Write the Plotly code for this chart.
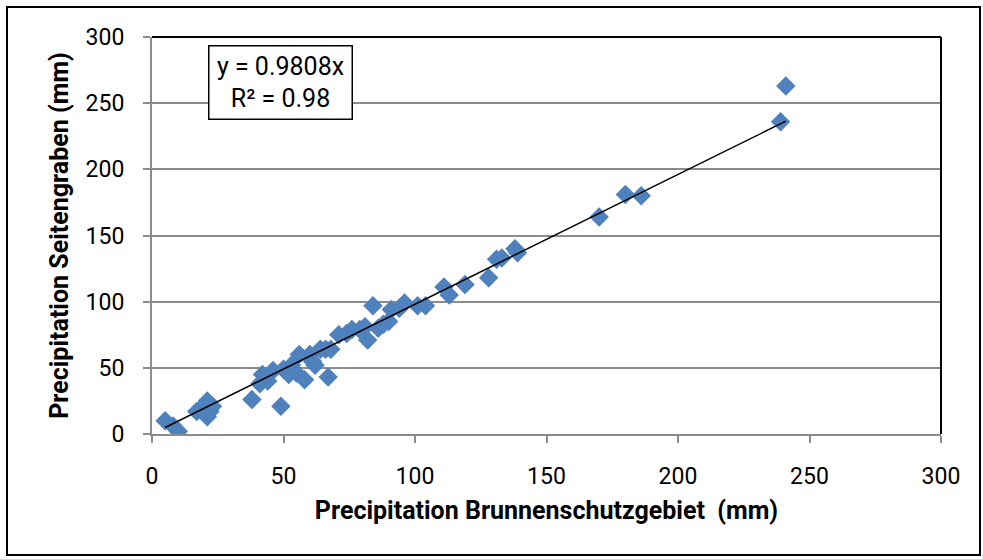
import plotly.graph_objects as go

# Monthly precipitation at two sites (mm)
brunnenschutzgebiet = [
    5, 8, 10,
    17, 19, 21, 21, 23, 22,
    38, 41, 42, 44, 46, 49, 50, 52, 53, 55, 56, 58, 60, 61, 62, 64, 66, 67, 68,
    71, 74, 76, 79, 81, 82, 84, 86, 88, 90, 91, 94, 96, 101, 104,
    111, 113, 119, 128, 131, 133, 138, 139,
    170, 180, 186, 239, 241,
]
seitengraben = [
    10, 6, 2,
    17, 20, 25, 13, 21, 17,
    26, 38, 45, 40, 48, 21, 49, 45, 52, 46, 60, 41, 60, 55, 52, 64, 64, 43, 64,
    75, 76, 79, 79, 81, 71, 97, 80, 83, 85, 94, 95, 99, 97, 97,
    111, 105, 113, 118, 132, 133, 140, 137,
    164, 181, 180, 236, 263,
]

# Linear fit through the origin
slope = 0.9808
r_squared = 0.98

tick_vals = [0, 50, 100, 150, 200, 250, 300]

FONT = "Roboto"
BLUE = "#4F81BD"
GRID = "#8C8C8C"

# plot-area geometry in pixels, used for paper-coordinate decorations
W, H = 983, 559
L, R, T, B = 152, 42, 37, 125
PW, PH = W - L - R, H - T - B


def px_x(px):
    return (px - L) / PW


def px_y(py):
    return (H - B - py) / PH


fig = go.Figure()

fig.add_trace(go.Scatter(
    x=brunnenschutzgebiet,
    y=seitengraben,
    mode="markers",
    marker=dict(symbol="diamond", size=15, color=BLUE, line=dict(width=0)),
    showlegend=False,
))

x_fit = [min(brunnenschutzgebiet), max(brunnenschutzgebiet)]
y_fit = [slope * v for v in x_fit]
fig.add_trace(go.Scatter(
    x=x_fit, y=y_fit, mode="lines",
    line=dict(color="black", width=1.5),
    showlegend=False,
))

axis_common = dict(
    range=[0, 300],
    tickvals=tick_vals,
    ticktext=[str(v) for v in tick_vals],
    ticks="outside",
    ticklen=7,
    tickwidth=1.5,
    tickcolor=GRID,
    showline=True,
    linecolor=GRID,
    linewidth=2,
    zeroline=False,
    tickfont=dict(family=FONT, size=23, color="black"),
    automargin=False,
)

fig.update_xaxes(
    **axis_common,
    showgrid=False,
    ticklabelstandoff=13,
    title=dict(
        text="<b>Precipitation Brunnenschutzgebiet  (mm)</b>",
        font=dict(family=FONT, size=25, color="black"),
        standoff=13,
    ),
)
fig.update_yaxes(
    **axis_common,
    showgrid=True,
    gridcolor=GRID,
    gridwidth=2,
    ticklabelstandoff=14,
    title=dict(
        text="<b>Precipitation Seitengraben (mm)</b>",
        font=dict(family=FONT, size=25, color="black"),
        standoff=10,
    ),
)

# top and right edges of the plot area
fig.add_shape(type="line", xref="paper", yref="paper", x0=0, x1=1, y0=1, y1=1,
              line=dict(color="black", width=2))
fig.add_shape(type="line", xref="paper", yref="paper", x0=1, x1=1, y0=0, y1=1,
              line=dict(color="black", width=2))

# outer chart border
fig.add_shape(type="rect", xref="paper", yref="paper",
              x0=px_x(7), x1=px_x(980), y0=px_y(555), y1=px_y(7),
              line=dict(color="black", width=2))

# trendline equation label
fig.add_annotation(
    xref="paper", yref="paper",
    x=px_x(280), y=px_y(82),
    xanchor="center", yanchor="middle",
    text=f"y = {slope:.4f}x<br>R² = {r_squared:.2f}",
    showarrow=False,
    align="center",
    font=dict(family=FONT, size=25, color="black"),
    bgcolor="white",
    bordercolor="black",
    borderwidth=1.5,
    width=140,
    height=70,
)

fig.update_layout(
    width=W, height=H,
    margin=dict(l=L, r=R, t=T, b=B),
    paper_bgcolor="white",
    plot_bgcolor="white",
)

fig.write_html("out.html")
